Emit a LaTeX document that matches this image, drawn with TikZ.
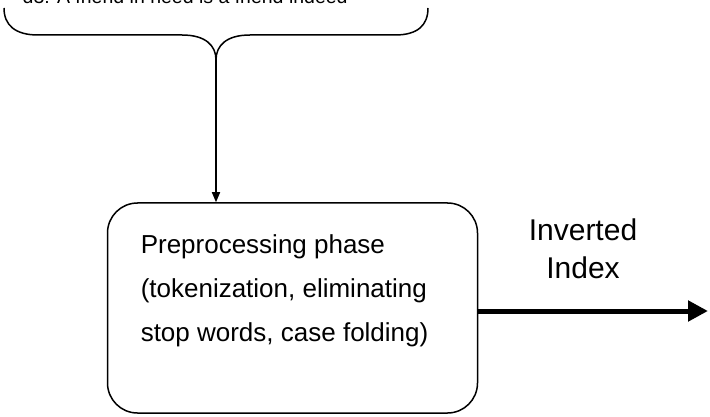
\documentclass[tikz,border=0pt]{standalone}
\usepackage{fontspec}
\setmainfont{Liberation Sans}
\usetikzlibrary{arrows.meta,positioning}

\begin{document}
\begin{tikzpicture}[x=1pt,y=-1pt,line width=1.5pt,
    phase/.style={draw,rounded corners=30pt,minimum width=370pt,minimum height=210pt},
    steptext/.style={align=left,inner sep=0pt,font=\fontsize{26}{44}\selectfont},
    outlabel/.style={align=center,inner sep=0pt,font=\fontsize{30}{38}\selectfont},
    into/.style={-{Triangle[length=10pt,width=8pt]}},
    result/.style={line width=5pt,-{Triangle[length=20pt,width=20pt]}}]
  \useasboundingbox (0,0) rectangle (710,417);
  \node[anchor=base west,inner sep=0pt,font=\fontsize{19.5}{20}\selectfont] (doc) at (22,3.5) {d3: A friend in need is a friend indeed};
  % brace under the document
  \draw (4,8) .. controls (4,25) and (15,35) .. (38,35) -- (182,35)
        .. controls (205,35) and (216,45) .. (216,60) coordinate (tip)
        .. controls (216,45) and (227,35) .. (250,35) -- (395,35)
        .. controls (418,35) and (428,25) .. (428,8);
  \node[phase] (pre) at (292.5,308) {};
  \node[steptext,anchor=north west] (steps) at (140,234) {Preprocessing phase\\(tokenization, eliminating\\stop words, case folding)};
  \coordinate (out) at (708,311);
  \node[outlabel,anchor=south] (index) at (583,280) {Inverted\\Index};
  \draw[into] (tip) -- (tip |- pre.north);
  \draw[result] ([yshift=-3pt]pre.east) -- (out);
\end{tikzpicture}
\end{document}
